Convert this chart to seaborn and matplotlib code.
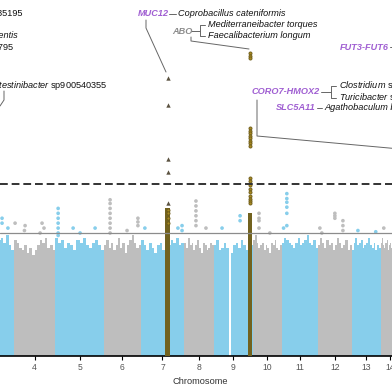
import numpy as np
import pandas as pd
import matplotlib
matplotlib.use("Agg")
import matplotlib.pyplot as plt
import seaborn as sns
from matplotlib.lines import Line2D

sns.set_style("white")
plt.rcParams['font.family'] = ['Liberation Sans', 'DejaVu Sans']
plt.rcParams['mathtext.fontset'] = 'custom'
plt.rcParams['mathtext.it'] = 'Liberation Sans:italic'
plt.rcParams['mathtext.rm'] = 'Liberation Sans'

# ---------------- data ----------------
chrom_ids = list(range(1, 15))
chrom_len = [249, 243, 198, 189, 225, 170, 198, 138, 179, 133, 166, 156, 133, 86]  # Mb (plot units)
chrom_labels = [str(c) for c in chrom_ids]

# upper envelope of the dense -log10(P) cloud, 16 equal bins per chromosome
env3 = [4.4, 4.6, 4.3, 4.7, 4.5, 4.2, 4.6, 4.8, 4.4, 4.5, 4.7, 4.8, 4.6, 4.9, 4.5, 4.3]
env4 = [4.7, 4.6, 4.4, 4.3, 4.5, 4.2, 4.4, 4.1, 4.3, 4.5, 4.7, 4.6, 4.8, 4.4, 4.5, 4.3]
env5 = [4.8, 4.6, 4.7, 4.4, 4.6, 4.5, 4.3, 4.7, 4.6, 4.8, 4.5, 4.4, 4.6, 4.7, 4.5, 4.3]
env6 = [4.5, 4.7, 4.4, 4.6, 4.3, 4.5, 4.8, 4.4, 4.6, 4.2, 4.5, 4.7, 4.9, 4.6, 4.4, 4.5]
env7 = [4.7, 4.5, 4.3, 4.6, 4.4, 4.2, 4.5, 4.6, 4.3, 4.4, 4.5, 4.7, 4.6, 4.8, 4.5, 4.6]
env8 = [4.6, 4.4, 4.8, 4.5, 4.6, 4.3, 4.5, 4.7, 4.4, 4.2, 4.6, 4.5, 4.3, 4.4, 4.6, 4.5]
env9 = [4.5, 4.7, 4.3, 4.4, 4.6, 4.4, 0.0, 4.2, 4.5, 4.6, 4.4, 4.7, 4.5, 4.3, 4.4, 4.5]
env10 = [4.7, 4.9, 4.6, 4.4, 4.5, 4.6, 4.3, 4.5, 4.4, 4.2, 4.6, 4.5, 4.7, 4.4, 4.3, 4.5]
env11 = [4.6, 4.8, 4.7, 4.6, 4.5, 4.4, 4.6, 4.8, 4.5, 4.6, 4.7, 4.9, 4.6, 4.5, 4.7, 4.4]
env12 = [4.5, 4.8, 4.6, 4.4, 4.7, 4.5, 4.6, 4.3, 4.5, 4.8, 4.6, 4.4, 4.5, 4.7, 4.3, 4.5]
env13 = [4.3, 4.6, 4.8, 4.5, 4.6, 4.7, 4.4, 4.5, 4.6, 4.8, 4.5, 4.4, 4.6, 4.3, 4.5, 4.4]
env14 = [4.6, 4.8, 4.5, 4.4, 4.6, 4.7, 4.3, 4.5, 4.6, 4.4, 4.5, 4.7, 4.6, 4.4, 4.5, 4.3]
envelopes = {3: env3, 4: env4, 5: env5, 6: env6, 7: env7, 8: env8, 9: env9,
             10: env10, 11: env11, 12: env12, 13: env13, 14: env14}

# individual SNPs rising above the cloud (chromosome, position Mb, -log10 P)
snp_chrom = [3, 3, 3,
             4, 4, 4, 4, 4, 4,
             5, 5, 5, 5, 5, 5, 5, 5, 5, 5,
             6, 6, 6, 6, 6, 6, 6, 6, 6, 6, 6, 6,
             7, 7, 7, 7,
             8, 8, 8, 8, 8, 8, 8,
             9, 9, 9,
             10, 10, 10, 10, 10,
             11, 11, 11, 11, 11, 11, 11,
             12, 12, 12, 12, 12, 12, 12, 12,
             13, 13, 14]
snp_pos = [143, 143, 170,
           5, 51, 48, 129, 138, 120,
           14, 14, 14, 14, 14, 14, 14, 83, 115, 184,
           28, 28, 28, 28, 28, 28, 28, 28, 156, 156, 156, 106,
           18, 189, 189, 170,
           55, 55, 55, 55, 55, 55, 101,
           37, 120, 120,
           28, 28, 28, 28, 78,
           23, 23, 23, 23, 23, 23, 8,
           78, 78, 78, 115, 115, 115, 9, 18,
           28, 110, 14]
snp_logp = [5.6, 5.4, 5.2,
            5.4, 5.3, 5.1, 5.4, 5.2, 5.0,
            6.0, 5.8, 5.6, 5.4, 5.2, 5.0, 4.9, 5.2, 5.0, 5.2,
            6.35, 6.2, 6.0, 5.8, 5.6, 5.4, 5.2, 5.0, 5.6, 5.45, 5.3, 5.1,
            5.2, 5.3, 5.1, 5.2,
            6.3, 6.1, 5.9, 5.7, 5.5, 5.3, 5.2,
            5.2, 5.7, 5.5,
            5.8, 5.6, 5.5, 5.2, 5.0,
            6.6, 6.4, 6.25, 6.05, 5.8, 5.3, 5.2,
            5.8, 5.7, 5.6, 5.5, 5.3, 5.1, 5.2, 5.0,
            5.1, 5.05, 5.2]

# highlighted loci (MUC12 on chr7, ABO on chr9)
locus_chrom = [7, 9]
locus_start = [112, 156]
locus_end = [135, 177]
locus_top = [6.0, 5.8]

lead_chrom = [9] * 20 + [7] * 4
lead_pos = [166] * 20 + [124] * 4
lead_logp = [12.3, 12.2, 12.1,
             9.25, 9.15, 9.05, 8.95, 8.85, 8.75, 8.65, 8.55,
             7.25, 7.1, 6.95, 6.8, 6.65, 6.5, 6.4, 6.3, 6.22,
             5.95, 5.8, 5.6, 5.4]

tri_chrom = [7, 7, 7, 7, 7]
tri_pos = [124, 124, 124, 124, 124]
tri_logp = [11.3, 10.2, 8.0, 7.5, 6.2]

suggestive_line = 5.0
genome_wide_line = 7.0

# ---------------- styling ----------------
BLUE = "#87CEEB"
GREY = "#BEBEBE"
OLIVE = "#72621f"
PURPLE = "#a05fd2"

starts = np.concatenate([[0], np.cumsum(chrom_len)[:-1]])
start_of = dict(zip(chrom_ids, starts))
len_of = dict(zip(chrom_ids, chrom_len))
color_of = {c: (BLUE if c % 2 == 1 else GREY) for c in chrom_ids}

W = H = 392
fig = plt.figure(figsize=(W / 100, H / 100), dpi=100)
ax = fig.add_axes([0, 1 - 356 / H, 1, 356 / H])

MB_PER_PX = 4.6
x_left = start_of[4] - 14 * MB_PER_PX
x_right = x_left + W * MB_PER_PX

for c, env in envelopes.items():
    edges = np.linspace(start_of[c], start_of[c] + len_of[c], len(env) + 1)
    ax.stairs(env, edges, fill=True, color=color_of[c], lw=0, zorder=1)

snps = pd.DataFrame({"chrom": snp_chrom, "pos": snp_pos, "logp": snp_logp})
snps["x"] = snps["chrom"].map(start_of) + snps["pos"]
snps["col"] = snps["chrom"].map(lambda c: "odd" if c % 2 else "even")
sns.scatterplot(data=snps, x="x", y="logp", hue="col",
                palette={"odd": BLUE, "even": GREY}, s=7, linewidth=0,
                legend=False, ax=ax, zorder=2)

for c, s0, s1, top in zip(locus_chrom, locus_start, locus_end, locus_top):
    ax.stairs([top], [start_of[c] + s0, start_of[c] + s1], fill=True,
              color=OLIVE, lw=0, zorder=3)

lead = pd.DataFrame({"chrom": lead_chrom, "pos": lead_pos, "logp": lead_logp})
lead["x"] = lead["chrom"].map(start_of) + lead["pos"]
sns.scatterplot(data=lead, x="x", y="logp", color="#a88a22", edgecolor="#6b5a18",
                s=5, linewidth=0.6, legend=False, ax=ax, zorder=4)

tri = pd.DataFrame({"chrom": tri_chrom, "pos": tri_pos, "logp": tri_logp})
tri["x"] = tri["chrom"].map(start_of) + tri["pos"]
sns.scatterplot(data=tri, x="x", y="logp", marker="^", color="#5b5240",
                s=10, linewidth=0, legend=False, ax=ax, zorder=4)

ax.axhline(suggestive_line, color="#8c8c8c", lw=0.9, zorder=5)
ax.axhline(genome_wide_line, color="#333333", lw=1.4, ls=(0, (4, 2)), zorder=5)

centers = starts + np.array(chrom_len) / 2
ax.set_xticks(centers)
ax.set_xticklabels(chrom_labels)
ax.set_yticks([])
ax.set_xlim(x_left, x_right)
ax.set_ylim(0, 356 / 24.6)
ax.set_xlabel("")
ax.set_ylabel("")
for s in ["left", "right", "top"]:
    ax.spines[s].set_visible(False)
ax.spines["bottom"].set_color("black")
ax.spines["bottom"].set_linewidth(1.2)
ax.tick_params(axis="x", length=3, width=0.8, color="black", labelsize=6.2,
               labelcolor="#555555", pad=2, direction="out", bottom=True)
fig.text(200.5 / W, 1 - 382 / H, "Chromosome", ha="center", va="center",
         fontsize=6.7, color="#333333")


# ---------------- annotations ----------------
def ftxt(x, y, s, **kw):
    kw.setdefault("fontsize", 6.6)
    kw.setdefault("color", "#111111")
    fig.text(x / W, 1 - y / H, s, va="center", **kw)


def fline(xs, ys, color="#666666", lw=0.7):
    fig.add_artist(Line2D([x / W for x in xs], [1 - y / H for y in ys],
                          transform=fig.transFigure, color=color, lw=lw))


gene_kw = dict(color=PURPLE, weight="bold", style="italic")

ftxt(23, 13, "sp000435195", ha="right")
ftxt(18, 36, "Bifidobacterium adolescentis", ha="right", style="italic")
ftxt(13, 48, "CAG-81 sp900066795", ha="right")
ftxt(107, 85, r"$\it{Intestinibacter}$ sp900540355", ha="right")
fline([4, 4, 0], [91, 100, 106])

ftxt(138, 13.5, "MUC12", ha="left", **gene_kw)
fline([169, 176], [13.5, 13.5])
ftxt(178, 13.5, "Coprobacillus cateniformis", ha="left", style="italic")
fline([146, 146, 166], [20, 28, 72])

ftxt(172, 32, "ABO", ha="left", color="#8c8c8c", weight="bold", style="italic")
fline([191, 200], [31, 31])
fline([205, 200, 200, 205], [24.5, 24.5, 36, 36])
ftxt(208, 24.5, "Mediterraneibacter torques", ha="left", style="italic")
ftxt(208, 36, "Faecalibacterium longum", ha="left", style="italic")
fline([191, 191, 249], [37, 41, 49])

ftxt(340, 47, "FUT3-FUT6", ha="left", **gene_kw)
fline([390, 396], [47, 47])

ftxt(252, 92, "CORO7-HMOX2", ha="left", **gene_kw)
fline([321, 331], [92, 92])
fline([336, 331, 331, 336], [86, 86, 98, 98])
ftxt(339, 86, r"$\it{Clostridium}$ sp001304875", ha="left")
ftxt(339, 98, r"$\it{Turicibacter}$ sp001543345", ha="left")
fline([257, 257, 400], [100, 136, 149])

ftxt(276, 108, "SLC5A11", ha="left", **gene_kw)
fline([317, 322], [108, 108])
ftxt(324, 108, "Agathobaculum butyriciproducens", ha="left", style="italic")

fig.savefig("out.png", dpi=100)
